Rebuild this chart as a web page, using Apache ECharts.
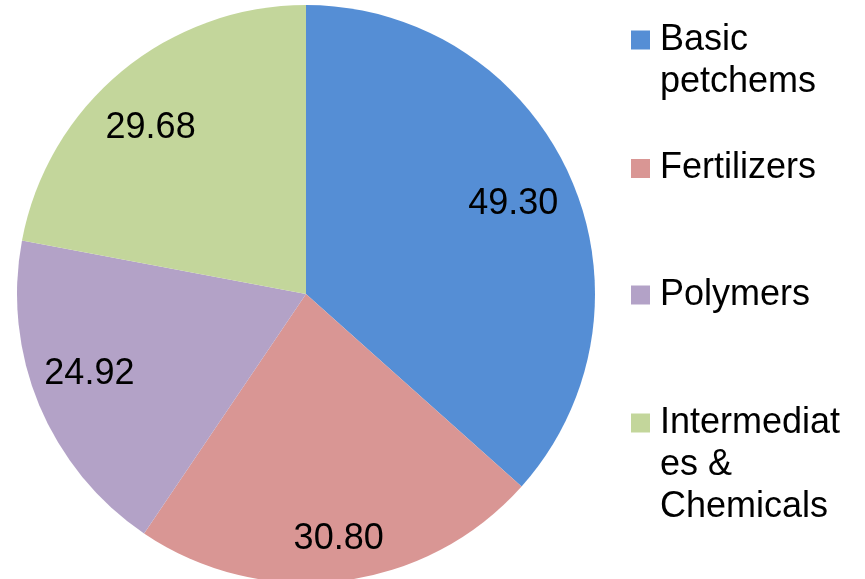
<!DOCTYPE html>
<html>
<head>
<meta charset="utf-8">
<script src="https://cdn.jsdelivr.net/npm/echarts@6/dist/echarts.min.js"></script>
<style>
  html, body { margin: 0; padding: 0; background: #ffffff; }
  #chart { width: 865px; height: 579px; }
</style>
</head>
<body>
<div id="chart"></div>
<script>
// Segment shares (values shown on the slices)
const categories = ['Basic petchems', 'Fertilizers', 'Polymers', 'Intermediates & Chemicals'];
const values = [49.30, 30.80, 24.92, 29.68];
// How each legend entry wraps
const legendText = ['Basic\npetchems', 'Fertilizers', 'Polymers', 'Intermediat\nes &\nChemicals'];

const colors = ['#558ED5', '#D99694', '#B3A2C7', '#C3D69B'];
const FONT = 'Liberation Sans, Arial, sans-serif';
const CX = 306, CY = 294, R = 289;
const LINE_H = 42;
// nudges for the value labels
const labelOffsets = [[-5, 5], [4, 14], [-2, -9], [-7, 13]];
// vertical centre of each legend swatch
const legendIconCenters = [40, 168.5, 295, 423];

const pieData = categories.map((name, i) => ({
  name: name,
  value: values[i],
  itemStyle: { color: colors[i] }
}));

const labelData = categories.map((name, i) => ({
  name: name,
  value: values[i],
  label: { offset: labelOffsets[i] }
}));

// one legend block per entry; blank lines above the text balance the wrapped
// lines below so the swatch sits beside the first line
const legends = categories.map((name, i) => {
  const lines = legendText[i].split('\n');
  const blank = new Array(lines.length - 1).fill('');
  const shown = blank.concat(lines).join('\n');
  const blockH = (2 * lines.length - 1) * LINE_H;
  return {
    orient: 'vertical',
    left: 631,
    top: legendIconCenters[i] - blockH / 2,
    padding: 0,
    itemWidth: 19,
    itemHeight: 19,
    icon: 'rect',
    selectedMode: false,
    data: [name],
    formatter: () => shown,
    textStyle: {
      fontFamily: FONT,
      fontSize: 36,
      lineHeight: LINE_H,
      color: '#000000',
      padding: [0, 0, 0, 5]
    }
  };
});

const chart = echarts.init(document.getElementById('chart'), null, { renderer: 'canvas' });
chart.setOption({
  animation: false,
  backgroundColor: '#ffffff',
  color: colors,
  legend: legends,
  series: [
    {
      name: 'share',
      type: 'pie',
      center: [CX, CY],
      radius: [0, R],
      startAngle: 90,
      clockwise: true,
      silent: true,
      label: { show: false },
      labelLine: { show: false },
      itemStyle: { borderWidth: 0 },
      data: pieData
    },
    {
      // transparent ring that carries the value labels at the right radius
      name: 'labels',
      type: 'pie',
      center: [CX, CY],
      radius: [170, R],
      startAngle: 90,
      clockwise: true,
      silent: true,
      legendHoverLink: false,
      itemStyle: { color: 'rgba(0,0,0,0)', borderWidth: 0 },
      label: {
        show: true,
        position: 'inside',
        fontFamily: FONT,
        fontSize: 36,
        color: '#000000',
        formatter: p => p.value.toFixed(2)
      },
      labelLine: { show: false },
      data: labelData
    }
  ]
});
</script>
</body>
</html>
